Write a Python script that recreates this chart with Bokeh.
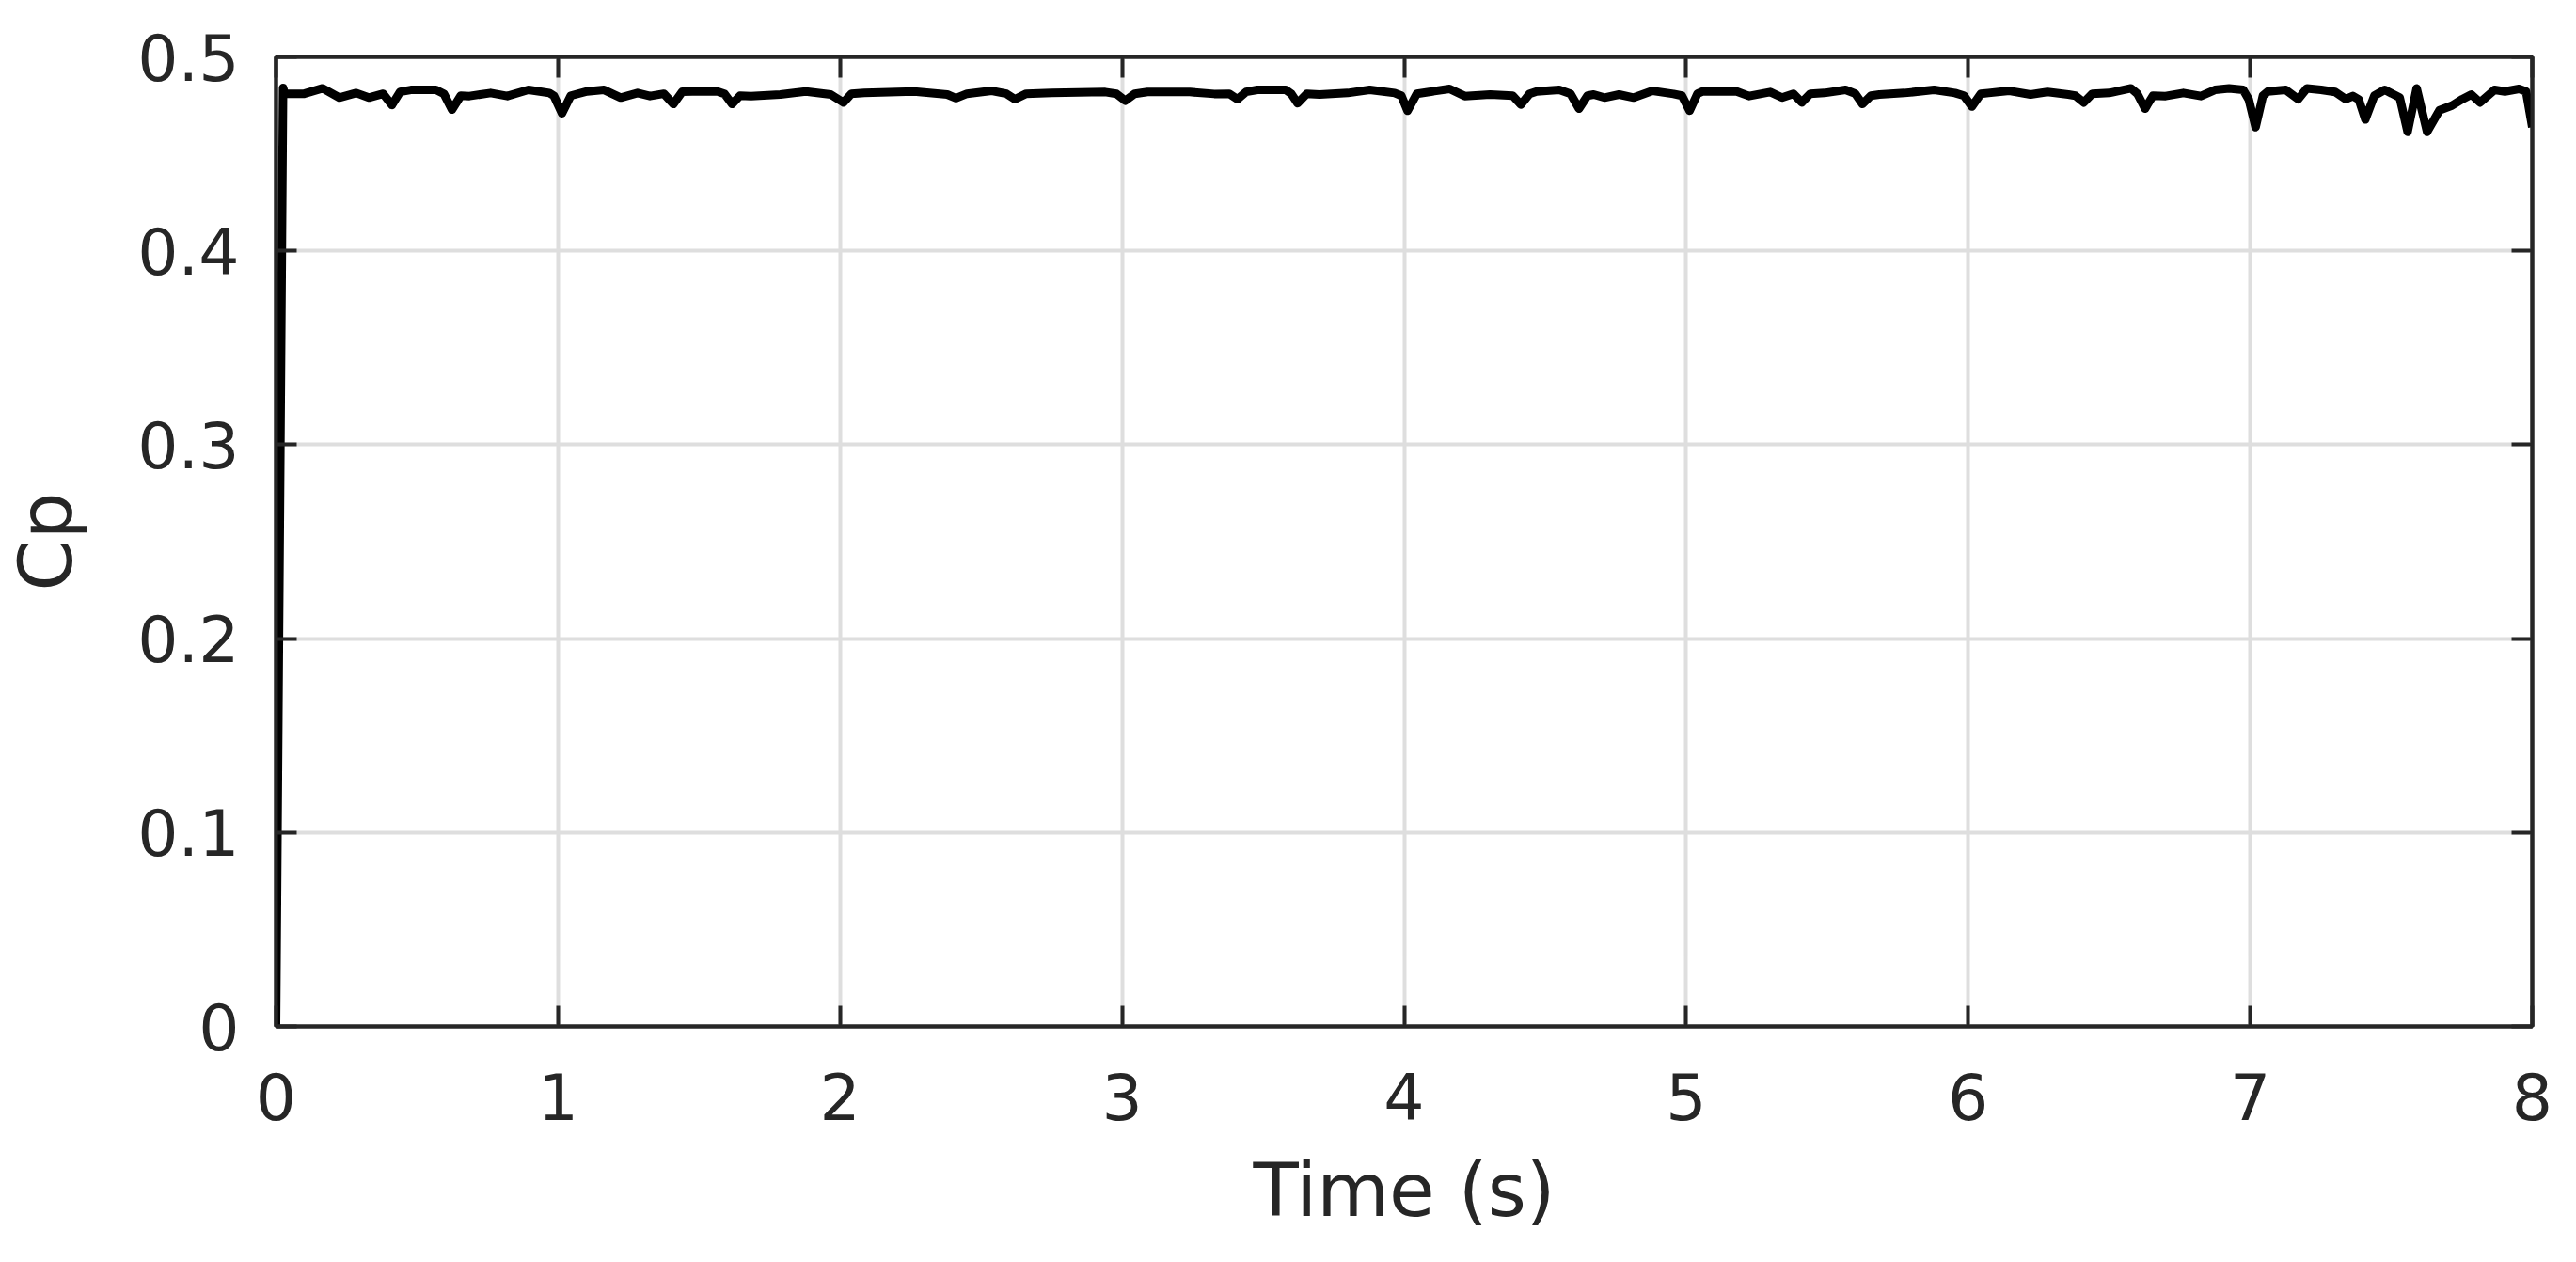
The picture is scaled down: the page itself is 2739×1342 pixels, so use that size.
from bokeh.plotting import figure
from bokeh.models import Range1d, FixedTicker, LinearAxis
from bokeh.embed import file_html
from bokeh.resources import INLINE

# ---- data ----
time_s = [0.000, 0.025, 0.031, 0.100, 0.165, 0.224, 0.284, 0.329, 0.380, 0.411,
          0.440, 0.478, 0.567, 0.595, 0.624, 0.655, 0.686, 0.761, 0.820, 0.895,
          0.969, 0.985, 1.014, 1.045, 1.103, 1.163, 1.222, 1.282, 1.326, 1.375,
          1.409, 1.440, 1.476, 1.565, 1.590, 1.617, 1.645, 1.684, 1.788, 1.878,
          1.967, 2.012, 2.040, 2.086, 2.262, 2.380, 2.411, 2.450, 2.538, 2.590,
          2.620, 2.660, 2.750, 2.940, 2.980, 3.011, 3.045, 3.090, 3.240, 3.327,
          3.380, 3.409, 3.440, 3.480, 3.580, 3.600, 3.622, 3.655, 3.700, 3.800,
          3.878, 3.966, 3.990, 4.012, 4.045, 4.100, 4.161, 4.215, 4.305, 4.385,
          4.414, 4.445, 4.470, 4.550, 4.590, 4.620, 4.650, 4.672, 4.710, 4.762,
          4.814, 4.881, 4.955, 4.985, 5.012, 5.040, 5.059, 5.179, 5.223, 5.298,
          5.340, 5.380, 5.410, 5.440, 5.490, 5.565, 5.600, 5.625, 5.655, 5.685,
          5.774, 5.879, 5.953, 5.985, 6.013, 6.045, 6.072, 6.146, 6.221, 6.281,
          6.355, 6.380, 6.410, 6.440, 6.500, 6.577, 6.600, 6.627, 6.655, 6.700,
          6.763, 6.825, 6.875, 6.925, 6.975, 6.995, 7.019, 7.045, 7.063, 7.126,
          7.170, 7.201, 7.251, 7.301, 7.339, 7.364, 7.385, 7.408, 7.440, 7.477,
          7.530, 7.558, 7.590, 7.627, 7.671, 7.715, 7.752, 7.784, 7.815, 7.866,
          7.903, 7.953, 7.978, 8.000]
cp = [0.0000, 0.4840, 0.4810, 0.4810, 0.4838, 0.4790, 0.4814, 0.4790, 0.4810, 0.4752,
      0.4820, 0.4830, 0.4830, 0.4810, 0.4728, 0.4800, 0.4798, 0.4814, 0.4798, 0.4830,
      0.4814, 0.4800, 0.4709, 0.4800, 0.4822, 0.4830, 0.4790, 0.4814, 0.4798, 0.4810,
      0.4757, 0.4820, 0.4822, 0.4822, 0.4810, 0.4757, 0.4800, 0.4798, 0.4806, 0.4822,
      0.4806, 0.4765, 0.4810, 0.4814, 0.4822, 0.4806, 0.4787, 0.4810, 0.4825, 0.4810,
      0.4782, 0.4810, 0.4814, 0.4819, 0.4810, 0.4774, 0.4810, 0.4819, 0.4819, 0.4809,
      0.4810, 0.4782, 0.4820, 0.4830, 0.4830, 0.4810, 0.4761, 0.4810, 0.4806, 0.4814,
      0.4830, 0.4814, 0.4800, 0.4722, 0.4810, 0.4822, 0.4835, 0.4798, 0.4806, 0.4800,
      0.4754, 0.4810, 0.4822, 0.4830, 0.4810, 0.4733, 0.4800, 0.4806, 0.4790, 0.4806,
      0.4790, 0.4825, 0.4809, 0.4800, 0.4722, 0.4810, 0.4822, 0.4822, 0.4798, 0.4819,
      0.4790, 0.4810, 0.4765, 0.4810, 0.4814, 0.4830, 0.4810, 0.4757, 0.4800, 0.4806,
      0.4814, 0.4830, 0.4814, 0.4800, 0.4744, 0.4810, 0.4814, 0.4825, 0.4806, 0.4819,
      0.4806, 0.4800, 0.4765, 0.4810, 0.4814, 0.4838, 0.4810, 0.4733, 0.4800, 0.4798,
      0.4814, 0.4798, 0.4830, 0.4838, 0.4830, 0.4780, 0.4637, 0.4800, 0.4822, 0.4830,
      0.4782, 0.4838, 0.4830, 0.4819, 0.4782, 0.4798, 0.4780, 0.4677, 0.4800, 0.4830,
      0.4790, 0.4613, 0.4838, 0.4613, 0.4725, 0.4749, 0.4782, 0.4806, 0.4765, 0.4830,
      0.4822, 0.4835, 0.4822, 0.4637]

x_ticks = [0, 1, 2, 3, 4, 5, 6, 7, 8]
y_ticks = [0, 0.1, 0.2, 0.3, 0.4, 0.5]
y_tick_labels = ["0", "0.1", "0.2", "0.3", "0.4", "0.5"]
x_label = "Time (s)"
y_label = "Cp"

# ---- styling ----
FONT = "DejaVu Sans"
DARK = "#262626"
GRID = "#dedede"

p = figure(width=2723, height=1326, output_backend="svg", toolbar_location=None,
           x_range=Range1d(0, 8), y_range=Range1d(0, 0.5),
           min_border_left=293, min_border_right=31, min_border_top=60,
           min_border_bottom=235)
p.background_fill_color = "white"
p.border_fill_color = "white"
p.outline_line_color = DARK
p.outline_line_width = 4

p.line(time_s, cp, line_color="black", line_width=9, line_join="round")

for ax in (p.xaxis[0], p.yaxis[0]):
    ax.axis_line_color = DARK
    ax.axis_line_width = 4
    ax.major_tick_line_color = DARK
    ax.major_tick_line_width = 4
    ax.major_tick_in = 22
    ax.major_tick_out = 0
    ax.minor_tick_line_color = None
    ax.major_label_text_font = FONT
    ax.major_label_text_font_size = "68px"
    ax.major_label_text_color = DARK
    ax.axis_label_text_font = FONT
    ax.axis_label_text_font_size = "79px"
    ax.axis_label_text_font_style = "normal"
    ax.axis_label_text_color = DARK

p.xaxis[0].ticker = FixedTicker(ticks=x_ticks)
p.yaxis[0].ticker = FixedTicker(ticks=y_ticks)
p.yaxis[0].major_label_overrides = {t: s for t, s in zip(y_ticks, y_tick_labels)}
p.xaxis[0].major_label_standoff = 49
p.yaxis[0].major_label_standoff = 39
p.xaxis[0].axis_label = x_label
p.yaxis[0].axis_label = y_label
p.xaxis[0].axis_label_standoff = 26
p.yaxis[0].axis_label_standoff = 48

# mirrored ticks on top and right
top = LinearAxis(ticker=FixedTicker(ticks=x_ticks))
right = LinearAxis(ticker=FixedTicker(ticks=y_ticks))
for ax in (top, right):
    ax.axis_line_color = DARK
    ax.axis_line_width = 4
    ax.major_tick_line_color = DARK
    ax.major_tick_line_width = 4
    ax.major_tick_in = 22
    ax.major_tick_out = 0
    ax.minor_tick_line_color = None
    ax.major_label_text_font_size = "0px"
    ax.major_label_text_color = None
    ax.major_label_standoff = 0
p.add_layout(top, "above")
p.add_layout(right, "right")

p.xgrid.ticker = FixedTicker(ticks=x_ticks)
p.ygrid.ticker = FixedTicker(ticks=y_ticks)
for g in (p.xgrid[0], p.ygrid[0]):
    g.grid_line_color = GRID
    g.grid_line_width = 4

open("out.html", "w").write(file_html(p, INLINE))
